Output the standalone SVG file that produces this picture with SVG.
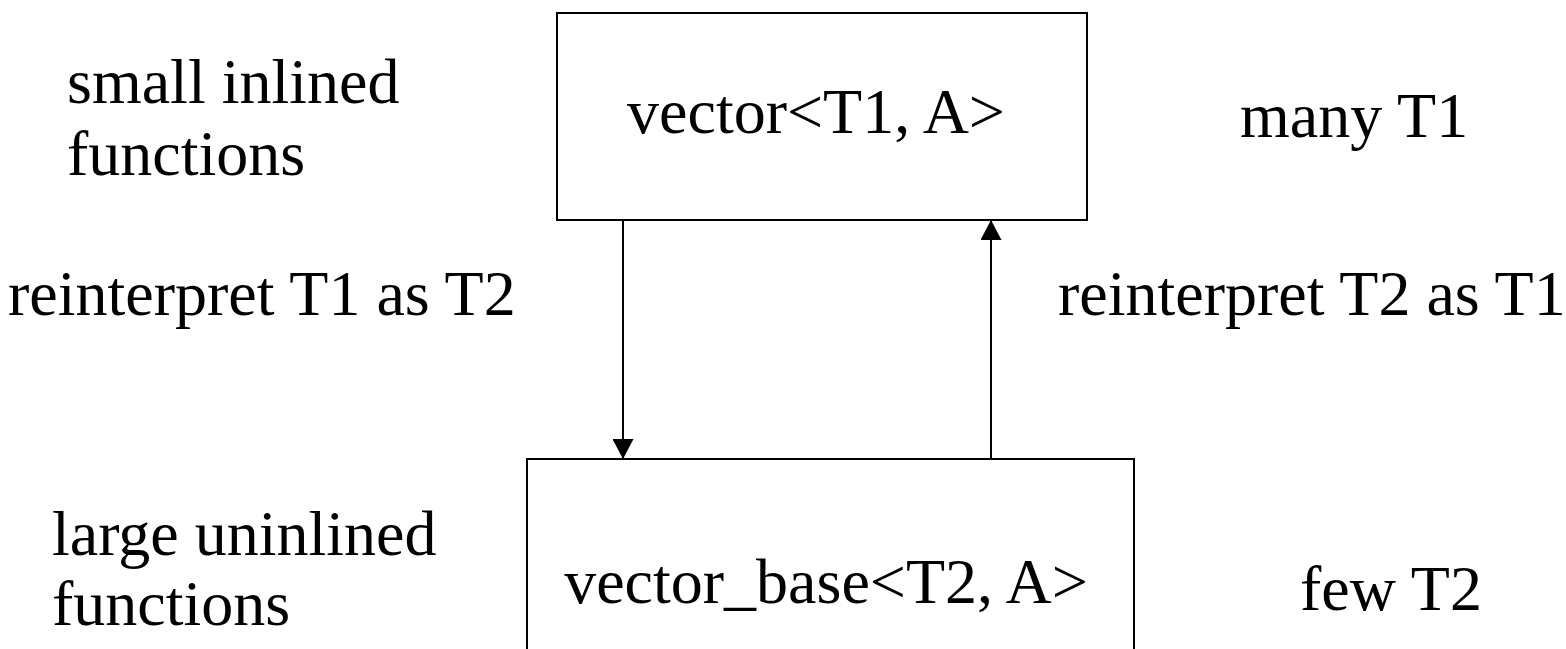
<svg xmlns="http://www.w3.org/2000/svg" width="1566" height="649" viewBox="0 0 1566 649">
  <style>
    .lbl { font-family: "Liberation Serif", "Times New Roman", serif; font-size: 64px; fill: #000; }
    .box { fill: #fff; stroke: #000; stroke-width: 2; }
    .conn { stroke: #000; stroke-width: 2; fill: none; }
  </style>
  <defs>
    <marker id="arrow" viewBox="0 0 20 21" refX="20" refY="10.5" markerWidth="20" markerHeight="21" markerUnits="userSpaceOnUse" orient="auto">
      <path d="M0,0 L20,10.5 L0,21 z" fill="#000"/>
    </marker>
  </defs>
  <rect width="1566" height="649" fill="#fff"/>

  <g id="vector">
    <rect class="box" x="557" y="13" width="530" height="207"/>
    <text class="lbl" x="816" y="133" text-anchor="middle">vector&lt;T1, A&gt;</text>
  </g>

  <g id="vector_base">
    <rect class="box" x="527" y="459" width="607" height="220"/>
    <text class="lbl" x="826" y="603" text-anchor="middle">vector_base&lt;T2, A&gt;</text>
  </g>

  <g id="connectors">
    <line class="conn" x1="623" y1="220" x2="623" y2="459" marker-end="url(#arrow)"/>
    <line class="conn" x1="991" y1="459" x2="991" y2="220" marker-end="url(#arrow)"/>
  </g>

  <g id="labels">
    <text class="lbl" x="67" y="103">small inlined</text>
    <text class="lbl" x="67" y="175">functions</text>
    <text class="lbl" x="1240" y="137">many T1</text>
    <text class="lbl" x="8" y="315">reinterpret T1 as T2</text>
    <text class="lbl" x="1058" y="315">reinterpret T2 as T1</text>
    <text class="lbl" x="52" y="555">large uninlined</text>
    <text class="lbl" x="52" y="625">functions</text>
    <text class="lbl" x="1300" y="610">few T2</text>
  </g>
</svg>
